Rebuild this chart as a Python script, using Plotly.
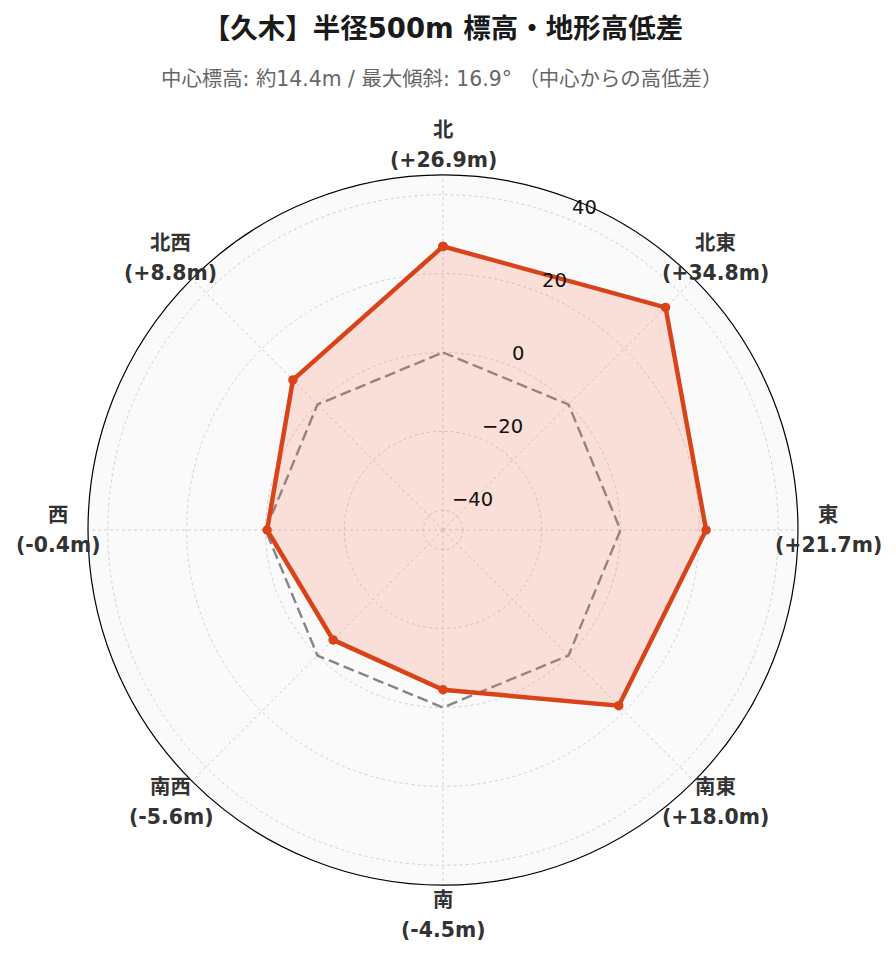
import math
import plotly.graph_objects as go

directions = ["北", "北東", "東", "南東", "南", "南西", "西", "北西"]
angles = [0, 45, 90, 135, 180, 225, 270, 315]
diffs = [26.9, 34.8, 21.7, 18.0, -4.5, -5.6, -0.4, 8.8]
baseline = [0, 0, 0, 0, 0, 0, 0, 0]
radial_ticks = [-40, -20, 0, 20, 40]
r_range = [-45, 45]

red = "#d9431a"
FONT = "DejaVu Sans, Noto Sans CJK JP, sans-serif"
W, H = 896, 962
CX, CY, R = 435, 522, 355  # polar centre / radius in layout pixels

fig = go.Figure()
fig.add_trace(go.Scatterpolar(
    r=baseline + [baseline[0]], theta=angles + [angles[0]],
    mode="lines", line=dict(color="#858585", width=2.4, dash="11px,5px"),
    hoverinfo="skip", showlegend=False))
fig.add_trace(go.Scatterpolar(
    r=diffs + [diffs[0]], theta=angles + [angles[0]],
    mode="lines+markers", fill="toself", fillcolor="rgba(252,110,80,0.2)",
    line=dict(color=red, width=4.5), marker=dict(color=red, size=9.5),
    showlegend=False))

annotations = [dict(text="中心標高: 約14.4m / 最大傾斜: 16.9° （中心からの高低差）",
                    xref="paper", yref="paper", x=(CX - 2) / W, y=1 - 71 / H,
                    xanchor="center", yanchor="middle", showarrow=False,
                    font=dict(size=20.4, color="#666666"))]

# angular labels (centred, matplotlib style)
LR = R + 30
for d, v, a in zip(directions, diffs, angles):
    rad = math.radians(a)
    px = CX + LR * math.sin(rad)
    py = CY - LR * math.cos(rad)
    for txt, shift in ((d, 15), (f"({v:+.1f}m)", -15)):
        annotations.append(dict(text=f"<b>{txt}</b>", xref="paper", yref="paper",
                                x=px / W, y=1 - py / H, yshift=shift,
                                xanchor="center", yanchor="middle", showarrow=False,
                                borderpad=0, font=dict(size=20.4, color="#333333")))

# radial tick labels along 22.5° from north
for t in radial_ticks:
    rp = (t - r_range[0]) / (r_range[1] - r_range[0]) * R
    rad = math.radians(22.5)
    px = CX + rp * math.sin(rad)
    py = CY - rp * math.cos(rad)
    annotations.append(dict(text=f"{t}".replace("-", "−"), xref="paper", yref="paper",
                            x=px / W, y=1 - py / H, xanchor="left", yanchor="bottom",
                            showarrow=False, borderpad=0,
                            font=dict(family="DejaVu Sans", size=19.5, color="#111111")))

fig.update_layout(
    width=W, height=H,
    paper_bgcolor="white",
    margin=dict(l=0, r=0, t=0, b=0),
    font=dict(family=FONT),
    title=dict(text="<b>【久木】半径500m 標高・地形高低差</b>", x=CX / W, xanchor="center",
               y=1 - 20 / H, yanchor="middle", font=dict(size=27.5, color="#1a1a1a")),
    annotations=annotations,
    polar=dict(
        domain=dict(x=[(CX - R) / W, (CX + R) / W], y=[1 - (CY + R) / H, 1 - (CY - R) / H]),
        bgcolor="#fafafa",
        radialaxis=dict(range=r_range, tickvals=radial_ticks, showticklabels=False,
                        showline=False, ticks="",
                        gridcolor="#cfcfcf", griddash="dot", gridwidth=1),
        angularaxis=dict(direction="clockwise", rotation=90, tickvals=angles,
                         showticklabels=False, showline=True, linecolor="black", linewidth=1.2,
                         ticks="", gridcolor="#cfcfcf", griddash="dot", gridwidth=1),
    ),
)

fig.write_html("out.html")
